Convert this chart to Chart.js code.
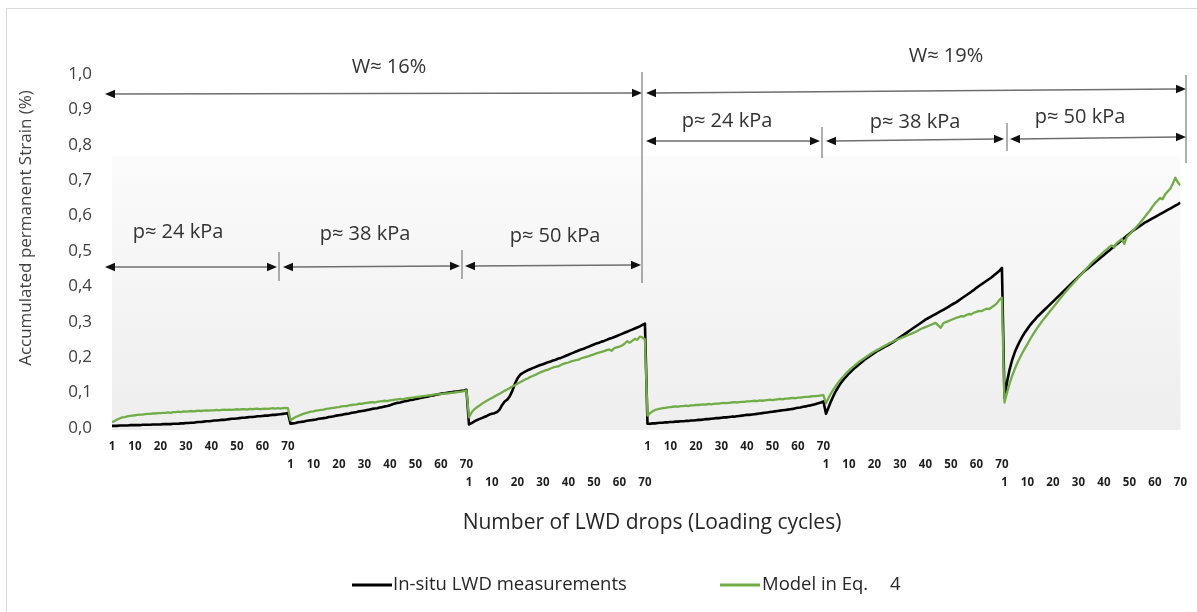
<!DOCTYPE html>
<html>
<head>
<meta charset="utf-8">
<script src="https://cdn.jsdelivr.net/npm/chart.js@4.4.1/dist/chart.umd.min.js"></script>
<style>
  html, body { margin: 0; padding: 0; background: #ffffff; }
  canvas { display: block; }
</style>
</head>
<body>
<canvas id="chart" width="1197" height="612"></canvas>
<script>
// Cycle numbers labelled under each 70-drop stage
const stageTicks = [1, 10, 20, 30, 40, 50, 60, 70];
const dropsPerStage = 70;
// Label row used by each stage (staggered under the axis)
const stageRow = [0, 1, 2, 0, 1, 2];

// In-situ LWD measurements, accumulated permanent strain (%)
const measW16p24 = [
  .006,.006,.006,.007,.007,.007,.007,.008,.008,.008,
  .008,.008,.009,.009,.009,.009,.010,.010,.010,.010,
  .011,.011,.011,.011,.012,.012,.012,.013,.013,.014,
  .014,.015,.015,.016,.017,.017,.018,.019,.019,.020,
  .021,.021,.022,.023,.023,.024,.025,.026,.026,.027,
  .028,.029,.029,.030,.031,.031,.032,.033,.033,.034,
  .035,.035,.036,.037,.037,.038,.039,.040,.041,.042];
const measW16p38 = [
  .012,.013,.014,.016,.017,.018,.020,.021,.022,.023,
  .024,.026,.027,.028,.029,.031,.032,.033,.035,.036,
  .037,.039,.040,.041,.043,.044,.045,.047,.048,.049,
  .051,.052,.054,.055,.056,.058,.059,.061,.062,.064,
  .067,.069,.071,.072,.074,.076,.077,.079,.080,.082,
  .083,.085,.086,.088,.089,.091,.092,.094,.095,.097,
  .098,.099,.100,.101,.102,.103,.104,.105,.106,.108];
const measW16p50 = [
  .010,.014,.018,.022,.025,.028,.031,.034,.038,.040,
  .042,.045,.052,.065,.075,.080,.090,.105,.125,.140,
  .150,.155,.159,.163,.166,.169,.172,.175,.178,.180,
  .183,.186,.188,.191,.193,.196,.198,.201,.204,.207,
  .210,.213,.216,.219,.222,.224,.227,.230,.233,.236,
  .239,.241,.244,.246,.249,.252,.254,.257,.260,.263,
  .266,.269,.272,.275,.278,.281,.284,.287,.291,.295];
const measW19p24 = [
  .012,.012,.013,.013,.014,.015,.015,.016,.016,.017,
  .017,.018,.018,.019,.019,.020,.020,.021,.021,.022,
  .023,.023,.024,.025,.025,.026,.027,.028,.028,.029,
  .030,.030,.031,.032,.032,.033,.034,.035,.036,.037,
  .037,.038,.039,.040,.041,.042,.043,.044,.045,.046,
  .047,.048,.049,.050,.051,.052,.053,.054,.056,.057,
  .058,.060,.061,.063,.064,.066,.068,.070,.072,.075];
const measW19p38 = [
  .040,.058,.076,.092,.106,.118,.129,.138,.146,.154,
  .161,.168,.174,.180,.186,.192,.197,.202,.207,.212,
  .217,.221,.225,.229,.233,.237,.241,.246,.251,.256,
  .261,.266,.271,.276,.281,.286,.291,.296,.301,.306,
  .310,.314,.318,.322,.326,.330,.334,.338,.342,.347,
  .351,.355,.360,.365,.370,.375,.380,.385,.390,.396,
  .401,.406,.411,.416,.421,.426,.432,.438,.444,.452];
const measW19p50 = [
  .085,.130,.165,.192,.213,.230,.245,.258,.270,.280,
  .290,.299,.307,.315,.322,.329,.336,.343,.350,.357,
  .364,.371,.378,.385,.392,.399,.406,.413,.420,.427,
  .434,.441,.447,.453,.459,.465,.471,.477,.483,.489,
  .495,.501,.507,.513,.519,.525,.531,.537,.543,.549,
  .555,.560,.565,.570,.575,.580,.584,.588,.592,.596,
  .600,.604,.608,.612,.616,.620,.624,.628,.632,.637];

// Model in Eq. 4, accumulated permanent strain (%)
const modelW16p24 = [
  .016,.020,.024,.027,.030,.031,.033,.034,.035,.036,
  .037,.038,.038,.039,.040,.040,.041,.041,.042,.042,
  .043,.043,.044,.043,.045,.045,.046,.045,.047,.046,
  .047,.048,.047,.048,.049,.048,.049,.050,.049,.050,
  .050,.051,.050,.051,.052,.051,.052,.051,.052,.053,
  .052,.053,.053,.052,.054,.053,.054,.055,.053,.054,
  .055,.054,.055,.056,.055,.056,.055,.056,.057,.056];
const modelW16p38 = [
  .022,.027,.031,.034,.037,.040,.042,.044,.046,.047,
  .049,.050,.051,.052,.054,.055,.056,.057,.058,.059,
  .061,.062,.062,.064,.065,.066,.067,.069,.068,.070,
  .071,.072,.073,.072,.074,.075,.076,.077,.076,.078,
  .079,.080,.081,.082,.081,.083,.084,.085,.086,.087,
  .088,.089,.090,.091,.092,.092,.094,.095,.095,.096,
  .097,.098,.098,.099,.100,.101,.102,.103,.104,.106];
const modelW16p50 = [
  .030,.044,.052,.058,.063,.068,.073,.077,.081,.085,
  .089,.093,.097,.101,.105,.109,.113,.117,.121,.125,
  .129,.133,.137,.140,.144,.147,.150,.154,.157,.160,
  .163,.165,.168,.171,.173,.174,.178,.181,.183,.185,
  .188,.190,.192,.193,.197,.199,.201,.203,.206,.208,
  .211,.213,.215,.217,.220,.222,.218,.226,.228,.230,
  .233,.238,.245,.241,.246,.252,.249,.258,.256,.250];
const modelW19p24 = [
  .035,.042,.047,.051,.053,.055,.056,.057,.058,.059,
  .060,.061,.060,.062,.062,.063,.062,.064,.064,.065,
  .065,.066,.067,.066,.068,.067,.068,.069,.069,.070,
  .071,.070,.071,.072,.073,.072,.073,.074,.074,.075,
  .075,.076,.077,.076,.078,.077,.078,.079,.080,.079,
  .080,.081,.082,.081,.083,.083,.084,.085,.084,.086,
  .086,.087,.088,.088,.089,.090,.090,.091,.092,.093];
const modelW19p38 = [
  .070,.085,.098,.110,.120,.130,.139,.147,.155,.162,
  .169,.175,.181,.187,.192,.197,.202,.207,.212,.216,
  .220,.224,.228,.232,.236,.240,.243,.247,.250,.253,
  .256,.259,.262,.265,.268,.271,.275,.279,.282,.285,
  .288,.291,.294,.297,.290,.283,.296,.299,.302,.305,
  .308,.311,.313,.316,.315,.319,.322,.321,.326,.328,
  .331,.330,.334,.337,.336,.341,.346,.352,.362,.368];
const modelW19p50 = [
  .072,.100,.125,.147,.166,.183,.198,.212,.225,.237,
  .250,.262,.273,.284,.294,.304,.313,.322,.331,.340,
  .349,.358,.367,.376,.385,.393,.401,.409,.417,.425,
  .433,.441,.449,.457,.465,.472,.478,.485,.491,.498,
  .504,.510,.516,.510,.522,.528,.534,.520,.540,.547,
  .555,.562,.570,.578,.587,.596,.605,.614,.625,.634,
  .642,.650,.646,.660,.668,.676,.690,.707,.694,.685];

const measured = [].concat(measW16p24, measW16p38, measW16p50, measW19p24, measW19p38, measW19p50);
const model = [].concat(modelW16p24, modelW16p38, modelW16p50, modelW19p24, modelW19p38, modelW19p50);
const toPoints = arr => arr.map((v, i) => ({ x: i, y: v }));

const FONT = "'Open Sans', 'DejaVu Sans', sans-serif";

// Dimension arrows, moisture/pressure labels, titles and legend
function arrowHead(ctx, x, y, dir) {
  ctx.beginPath();
  ctx.moveTo(x, y);
  ctx.lineTo(x - dir * 10, y - 4.2);
  ctx.lineTo(x - dir * 10, y + 4.2);
  ctx.closePath();
  ctx.fill();
}
function dimArrow(ctx, x1, y1, x2, y2) {
  ctx.strokeStyle = '#6e6e6e';
  ctx.lineWidth = 1.3;
  ctx.beginPath();
  ctx.moveTo(x1 + 8, y1);
  ctx.lineTo(x2 - 8, y2);
  ctx.stroke();
  ctx.fillStyle = '#111111';
  arrowHead(ctx, x1, y1, -1);
  arrowHead(ctx, x2, y2, 1);
}
function vLine(ctx, x, y1, y2) {
  ctx.strokeStyle = '#7a7a7a';
  ctx.lineWidth = 1.2;
  ctx.beginPath();
  ctx.moveTo(x, y1);
  ctx.lineTo(x, y2);
  ctx.stroke();
}
function label(ctx, text, x, y, size) {
  ctx.font = size + 'px ' + FONT;
  ctx.fillStyle = '#333333';
  ctx.textAlign = 'center';
  ctx.textBaseline = 'alphabetic';
  ctx.fillText(text, x, y);
}

const decor = {
  id: 'decor',
  beforeDraw(chart) {
    const { ctx, chartArea: a, scales: { y } } = chart;
    ctx.save();
    ctx.fillStyle = '#ffffff';
    ctx.fillRect(0, 0, chart.width, chart.height);
    ctx.strokeStyle = '#d9d9d9';
    ctx.lineWidth = 1;
    ctx.strokeRect(6.5, 8.5, chart.width + 10, chart.height + 10);
    const top = y.getPixelForValue(0.77);
    const g = ctx.createLinearGradient(0, top, 0, a.bottom);
    g.addColorStop(0, '#fbfbfb');
    g.addColorStop(1, '#eeeeee');
    ctx.fillStyle = g;
    ctx.fillRect(a.left, top, a.right - a.left, a.bottom - top + 2);
    ctx.restore();
  },
  afterDraw(chart) {
    const ctx = chart.ctx;
    ctx.save();

    // moisture content spans
    dimArrow(ctx, 105, 94, 642, 93);
    dimArrow(ctx, 646, 93, 1186, 89);
    vLine(ctx, 642, 72, 283);
    vLine(ctx, 1186, 75, 163);
    label(ctx, 'W\u2248 16%', 389, 73, 20);
    label(ctx, 'W\u2248 19%', 946, 62, 20);

    // pressure stages, W 16 %
    dimArrow(ctx, 105, 267, 277, 267);
    dimArrow(ctx, 283, 267, 460, 266);
    dimArrow(ctx, 465, 266, 641, 265);
    vLine(ctx, 279, 252, 281);
    vLine(ctx, 462, 250, 279);
    label(ctx, 'p\u2248 24 kPa', 178, 238, 20);
    label(ctx, 'p\u2248 38 kPa', 365, 240, 20);
    label(ctx, 'p\u2248 50 kPa', 555, 242, 20);

    // pressure stages, W 19 %
    dimArrow(ctx, 646, 141, 820, 141);
    dimArrow(ctx, 826, 141, 1004, 139);
    dimArrow(ctx, 1010, 139, 1186, 137);
    vLine(ctx, 822, 127, 158);
    vLine(ctx, 1007, 123, 151);
    label(ctx, 'p\u2248 24 kPa', 727, 127, 20);
    label(ctx, 'p\u2248 38 kPa', 915, 128, 20);
    label(ctx, 'p\u2248 50 kPa', 1080, 123, 20);

    // axis titles
    ctx.fillStyle = '#404040';
    ctx.font = '17px ' + FONT;
    ctx.textAlign = 'center';
    ctx.textBaseline = 'middle';
    ctx.save();
    ctx.translate(26, 228);
    ctx.rotate(-Math.PI / 2);
    ctx.fillText('Accumulated permanent Strain (%)', 0, 0);
    ctx.restore();

    ctx.fillStyle = '#262626';
    ctx.font = '21px ' + FONT;
    ctx.fillText('Number of LWD drops (Loading cycles)', 652, 523);

    // legend
    const ds = chart.data.datasets;
    ctx.lineWidth = 3;
    ctx.strokeStyle = ds[0].borderColor;
    ctx.beginPath(); ctx.moveTo(352, 585); ctx.lineTo(392, 585); ctx.stroke();
    ctx.strokeStyle = ds[1].borderColor;
    ctx.beginPath(); ctx.moveTo(720, 585); ctx.lineTo(760, 585); ctx.stroke();
    ctx.fillStyle = '#262626';
    ctx.font = '18.5px ' + FONT;
    ctx.textAlign = 'left';
    ctx.fillText('In-situ LWD measurements', 393, 585);
    ctx.fillText('Model in Eq.', 762, 585);
    ctx.fillText('4', 890, 585);

    ctx.restore();
  }
};

new Chart(document.getElementById('chart'), {
  type: 'line',
  data: {
    datasets: [
      {
        label: 'In-situ LWD measurements',
        data: toPoints(measured),
        borderColor: '#000000',
        borderWidth: 2.6,
        pointRadius: 0,
        borderJoinStyle: 'round',
        tension: 0,
        order: 1
      },
      {
        label: 'Model in Eq. 4',
        data: toPoints(model),
        borderColor: '#70ad47',
        borderWidth: 2.3,
        pointRadius: 0,
        borderJoinStyle: 'round',
        tension: 0,
        order: 0
      }
    ]
  },
  options: {
    responsive: false,
    animation: false,
    devicePixelRatio: 1,
    layout: { padding: { left: 0, top: 74, right: 8, bottom: 84 } },
    plugins: { legend: { display: false }, tooltip: { enabled: false } },
    scales: {
      x: {
        type: 'linear',
        min: 0,
        max: measured.length - 1,
        grid: { display: false, drawTicks: false },
        border: { display: false },
        afterBuildTicks(axis) {
          const ticks = [];
          for (let s = 0; s < stageRow.length; s++) {
            stageTicks.forEach(t => ticks.push({ value: s * dropsPerStage + t - 1 }));
          }
          axis.ticks = ticks;
        },
        afterFit(axis) { axis.height = 100; },
        ticks: {
          autoSkip: false,
          maxRotation: 0,
          minRotation: 0,
          padding: 10,
          color: '#1e1e1e',
          font: { family: FONT, size: 11.5, weight: 'bold', lineHeight: 1.55 },
          callback(value) {
            const s = Math.floor(value / dropsPerStage);
            const cycle = String(value - s * dropsPerStage + 1);
            const lines = [];
            for (let r = 0; r < stageRow[s]; r++) lines.push('');
            lines.push(cycle);
            return lines;
          }
        }
      },
      y: {
        min: 0,
        max: 1,
        grid: { display: false, drawTicks: false },
        border: { display: false },
        afterFit(axis) { axis.width = 112; },
        ticks: {
          stepSize: 0.1,
          padding: 20,
          color: '#404040',
          font: { family: FONT, size: 17 },
          callback: v => v.toFixed(1).replace('.', ',')
        }
      }
    }
  },
  plugins: [decor]
});
</script>
</body>
</html>
